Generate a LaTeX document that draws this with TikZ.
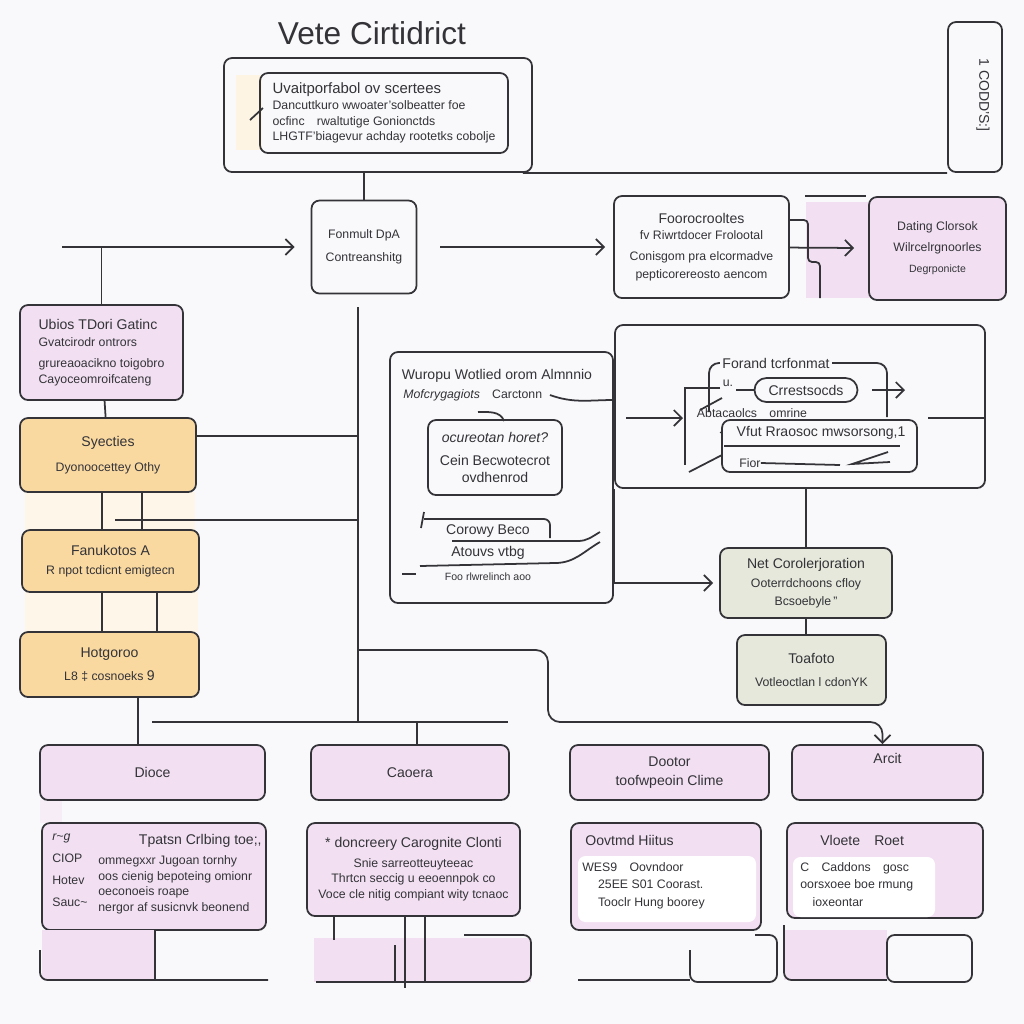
\documentclass[tikz,border=0pt]{standalone}
\usepackage{fontspec}
\setmainfont{Liberation Sans}
\usepackage{tikz}
\usetikzlibrary{positioning}
\usetikzlibrary{arrows.meta}
\usepackage{xcolor}
\definecolor{ink}{rgb}{0.2,0.2,0.22}
\definecolor{lilac}{rgb}{0.95,0.88,0.95}
\definecolor{peach}{rgb}{0.98,0.85,0.63}
\definecolor{sage}{rgb}{0.9,0.91,0.86}
\definecolor{paper}{rgb}{0.976,0.976,0.984}
\newcommand\btx{\fontsize{8}{10}\selectfont}

\begin{document}
\begin{tikzpicture}[x=0.2mm, y=-0.2mm,
    every node/.style = {inner sep=0pt, align=center, text=ink, font=\fontsize{7}{9}\selectfont},
    box/.style = {draw=ink, line width=1pt, rounded corners=1.6mm},
    lilacbox/.style = {box, fill=lilac},
    peachbox/.style = {box, fill=peach},
    sagebox/.style = {box, fill=sage},
    line/.style = {draw=ink, line width=1pt},
    bigfont/.style = {font=\btx},
    >={Straight Barb[length=1.6mm, width=3.2mm]}
    ]
    \fill[paper] (0,0) rectangle (1024,1024);
    % washes
    \fill[peach!30] (236,75) rectangle (262,150);
    \fill[lilac] (806,202) rectangle (872,298);
    \fill[peach!25] (25,492) rectangle (195,530);
    \fill[peach!25] (25,592) rectangle (198,632);
    \fill[lilac!60] (40,800) rectangle (62,823);

    % title and top
    \node[font=\fontsize{18}{21}\selectfont] (0) at (372,33) {Vete Cirtidrict};
    \node[box, minimum width=61.6mm, minimum height=22.8mm] (1) at (378,115) {};
    \node[box, minimum width=49.6mm, minimum height=16mm, align=left] (1a) at (384,113)
      {{\fontsize{8.5}{10}\selectfont Uvaitporfabol ov scertees}\\Dancuttkuro wwoater'solbeatter foe\\ocfinc\quad rwaltutige Gonionctds\\LHGTF'biagevur achday rootetks cobolje};
    \draw[line] (250,120) -- (263,108);
    \node[box, minimum width=10.8mm, minimum height=30mm] (2) at (975,97) {};
    \node[rotate=-90, bigfont] (2a) at (983,95) {1 CODD'S:]};
    \draw[line] ([xshift=-2mm]1.south east) -- (2.south west);

    \node[box, minimum width=21mm, minimum height=18.6mm] (3) at (364,247) {Fonmult DpA\\[4pt]Contreanshitg};
    \draw[line] (3.north) -- (3.north |- 1.south);
    \coordinate (in) at (62,247);
    \draw[line,->, shorten >=3.2mm] (in) -- (3);

    \node[box, minimum width=35mm, minimum height=20.4mm] (4) at (701.5,247)
      {{\btx Foorocrooltes}\\fv Riwrtdocer Frolootal\\[3pt]Conisgom pra elcormadve\\[1pt]pepticorereosto aencom};
    \draw[line,->, shorten <=4.6mm, shorten >=1.6mm] (3) -- (4);
    \node[lilacbox, minimum width=27.4mm, minimum height=20.6mm] (5) at (937.5,248.5)
      {Dating Clorsok\\[3pt]Wilrcelrgnoorles\\[3pt]{\fontsize{6}{7}\selectfont Degrponicte}};
    \draw[line] (805,196) -- (866,196);
    \draw[line, rounded corners=0.8mm] (789,220) -- (808,220) -- (808,262) -- (820,262) -- (820,298);
    \draw[line,->, shorten >=2.8mm] (4) -- (5);

    % left column
    \node[lilacbox, minimum width=32.6mm, minimum height=19mm, align=left] (6) at (101.5,352.5)
      {{\btx Ubios TDori Gatinc}\\[1pt]Gvatcirodr ontrors\\[3pt]grureaoacikno toigobro\\Cayoceomroifcateng};
    \draw[line] (6.north) -- (6.north |- in);
    \node[peachbox, minimum width=35.2mm, minimum height=14.8mm] (7) at (108,455) {{\btx Syecties}\\[5pt]Dyonoocettey Othy};
    \node[peachbox, minimum width=35.4mm, minimum height=12.4mm] (8) at (110.5,561) {{\btx Fanukotos A}\\[2pt]R npot tcdicnt emigtecn};
    \node[peachbox, minimum width=35.8mm, minimum height=13mm] (9) at (109.5,664.5) {{\btx Hotgoroo}\\[4pt]L8 ‡ cosnoeks {\btx 9}};
    \coordinate (sp) at (358,722);
    \draw[line] (3.south -| sp) ++(0,13) -- (sp);
    \draw[line] (6) -- (7);
    \draw[line] ([yshift=3.8mm]7.east) -- ([yshift=3.8mm]7.east -| sp);
    \draw[line] ([xshift=-1.2mm]7.south) -- ([xshift=-1.2mm]7.south |- 8.north);
    \draw[line] ([xshift=6.8mm]7.south) -- ([xshift=6.8mm]7.south |- 8.north);
    \coordinate (j2) at (115,520);
    \draw[line] (j2) -- (j2 -| sp);
    \draw[line] ([xshift=-1.7mm]8.south) -- ([xshift=-1.7mm]8.south |- 9.north);
    \draw[line] ([xshift=9.3mm]8.south) -- ([xshift=9.3mm]8.south |- 9.north);

    % bottom row
    \node[lilacbox, minimum width=45mm, minimum height=11mm, bigfont] (10) at (152.5,772.5) {Dioce};
    \node[lilacbox, minimum width=39.6mm, minimum height=11mm, bigfont] (11) at (410,772.5) {Caoera};
    \node[lilacbox, minimum width=39.8mm, minimum height=11mm, bigfont] (12) at (669.5,772.5) {Dootor\\[1pt]toofwpeoin Clime};
    \node[lilacbox, minimum width=38.2mm, minimum height=11mm, bigfont] (13) at (887.5,772.5) {Arcit\\[6pt]};
    \draw[line] ([xshift=5.7mm]9.south) -- ([xshift=5.7mm]9.south |- 10.north);
    \coordinate (j3) at (152,722);
    \draw[line] (j3) -- ++(356,0);
    \draw[line] ([xshift=1.4mm]11.north) -- ([xshift=1.4mm]11.north |- j3);
    \coordinate (j4) at (358,650);
    \draw[line,->, rounded corners=2.4mm] (j4) -| (548,722) -| ([xshift=-1mm]13.north);

    % middle block
    \node[box, minimum width=44.6mm, minimum height=50.2mm] (14) at (501.5,477.5) {};
    \node[bigfont] (14a) at (497,376) {Wuropu Wotlied orom Almnnio};
    \node[anchor=west] (14b) at (403,395) {\textit{Mofcrygagiots}\quad Carctonn};
    \draw[line] ([xshift=1.5mm]14b.east) to[out=-20, in=180] (14.east |- 0,400);
    \node[box, minimum width=26.8mm, minimum height=15mm, bigfont] (15) at (495,457.5)
      {\textit{ocureotan horet?}\\[3pt]Cein Becwotecrot\\ovdhenrod};
    \draw[line] (478,412) to[out=0, in=110] (504,421);
    \node[bigfont] (16) at (488,531) {Corowy Beco};
    \node[bigfont] (16a) at (488,553) {Atouvs vtbg};
    \node[font=\fontsize{6}{7}\selectfont] (16b) at (488,577) {Foo rlwrelinch aoo};
    \draw[line, rounded corners=1.2mm] (424,519) -- (550,519) -- (550,538);
    \draw[line] (424,512) -- (421,528);
    \draw[line] (452,541) -- (578,541) to[out=0, in=-150] (600,532);
    \draw[line] (420,566) -- (555,563) to[out=0, in=-150] (600,542);
    \draw[line] (402,574) -- (416,574);

    % right block
    \node[box, minimum width=74mm, minimum height=32.6mm] (17) at (800,406.5) {};
    \node[sagebox, minimum width=34.4mm, minimum height=14mm] (18) at (806,583)
      {{\btx Net Corolerjoration}\\[2pt]Ooterrdchoons cfloy\\[1pt]Bcsoebyle\,''};
    \node[sagebox, minimum width=29.8mm, minimum height=14mm] (23) at (811.5,670)
      {{\btx Toafoto}\\[4pt]Votleoctlan l cdonYK};
    \draw[line] (17.south west) -- (17.south west |- 18.west);
    \draw[line,->, shorten >=1.2mm] (14.east |- 18.west) -- (18.west);
    \draw[line] (18.north) -- (18.north |- 17.south);
    \draw[line] (18.south) -- (18.south |- 23.north);

    \draw[line,->] (626,418) -- (683,418);
    \draw[line] (720,388) -- (685,388) -- (685,465);
    \draw[line] (689,472) -- (722,455);
    \draw[line] (700,410) -- (722,398);
    \draw[line, rounded corners=2mm] (709,412) -- (709,363) -- (887,363) -- (887,417);
    \node[bigfont, fill=paper, inner sep=1.5pt] (19) at (776,363) {Forand tcrfonmat};
    \node[box, minimum width=20.6mm, minimum height=4.8mm, rounded corners=2.4mm, fill=paper, bigfont] (20) at (806,390) {Crrestsocds};
    \node (20a) at (728,383) {u.};
    \draw[line] (20.west) -- ++(-18,0);
    \draw[line,->] (872,390) -- (905,390);
    \node (21) at (752,413) {Abtacaolcs\quad omrine};
    \node[box, minimum width=39mm, minimum height=10.4mm] (22) at (819.5,446) {};
    \node[bigfont] (22a) at (812,433) {$\cdot$\quad Vfut Rraosoc mwsorsong,1};
    \draw[line] (724,446) -- (900,446);
    \node (22b) at (750,463) {Fior};
    \draw[line] (22b.east) -- (840,465);
    \draw[line] (888,452) -- (852,464) -- (890,462);
    \draw[line] (928,418) -- (985,418);

    % lower boxes
    \node[lilacbox, minimum width=44.8mm, minimum height=21.4mm] (24) at (154,876.5) {};
    \node[anchor=north west, align=left, font=\fontsize{7}{12.5}\selectfont] (24a) at (52,834) {\textit{r\textasciitilde g}\\CIOP\\Hotev\\Sauc\textasciitilde};
    \node[bigfont, anchor=east] (24b) at (262,841) {Tpatsn Crlbing toe;,};
    \node[anchor=north west, align=left] (24c) at (98,855)
      {ommegxxr Jugoan tornhy\\oos cienig bepoteing omionr\\oeconoeis roape\\nergor af susicnvk beonend};
    \node[lilacbox, minimum width=42.6mm, minimum height=18.6mm] (25) at (413.5,869.5)
      {{\btx * doncreery Carognite Clonti}\\[2pt]Snie sarreotteuyteeac\\Thrtcn seccig u eeoennpok co\\Voce cle nitig compiant wity tcnaoc};
    \node[lilacbox, minimum width=38mm, minimum height=21.4mm] (26) at (666,876.5) {};
    \fill[white, rounded corners=1.5mm] (578,856) rectangle (756,922);
    \node[bigfont, anchor=west] (26a) at (585,840) {Oovtmd Hiitus};
    \node[anchor=north west, align=left, font=\fontsize{7}{10}\selectfont] (26b) at (582,862)
      {WES9\quad Oovndoor\\\quad\ 25EE S01 Coorast.\\\quad\ Tooclr Hung boorey};
    \node[lilacbox, minimum width=39.2mm, minimum height=19mm] (27) at (885,870.5) {};
    \fill[white, rounded corners=1.5mm] (793,857) rectangle (935,917);
    \node[bigfont, anchor=west] (27a) at (820,840) {Vloete\quad Roet};
    \node[anchor=north west, align=left, font=\fontsize{7}{10}\selectfont] (27b) at (800,862)
      {C\quad Caddons\quad gosc\\oorsxoee boe rmung\\\quad ioxeontar};

    % bottom strip
    \fill[lilac] (42,930) rectangle (155,980);
    \draw[line, rounded corners=1.5mm] (40,950) |- (268,980);
    \draw[line] (155,930) -- (155,980);
    \fill[lilac] (314,938) rectangle (531,982);
    \draw[line] (334,916) -- (334,940);
    \draw[line] (405,916) -- (405,988);
    \draw[line] (425,916) -- (425,982);
    \draw[line] (395,945) -- (395,982);
    \draw[line, rounded corners=1.5mm] (464,935) -| (531,982) -- (316,982);
    \draw[line] (578,980) -- (690,980);
    \draw[line, rounded corners=1.5mm] (690,950) |- (777,982) |- (755,935);
    \fill[lilac] (784,930) rectangle (887,980);
    \draw[line, rounded corners=1.5mm] (784,925) |- (887,980);
    \draw[line, rounded corners=1.5mm] (887,935) rectangle (972,982);
    \end{tikzpicture}
\end{document}
